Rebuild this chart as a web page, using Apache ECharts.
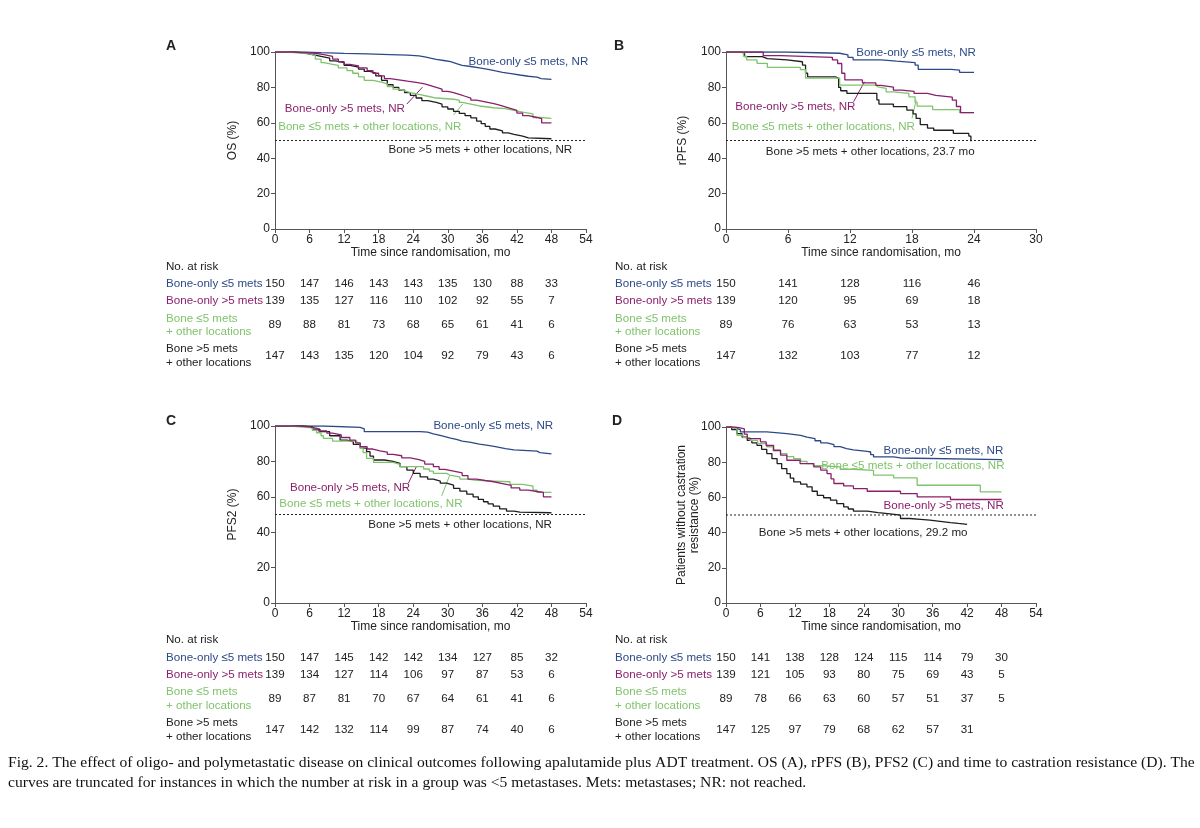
<!DOCTYPE html>
<html><head><meta charset="utf-8">
<script src="https://cdn.jsdelivr.net/npm/echarts@6/dist/echarts.min.js"></script>
<style>html,body{margin:0;padding:0;background:#fff}#c{width:1200px;height:828px}</style>
</head><body><div id="c"></div>
<script>
// ---------- Data ----------
const groupNames = ['Bone-only ≤5 mets', 'Bone-only >5 mets', 'Bone ≤5 mets\n+ other locations', 'Bone >5 mets\n+ other locations'];
const panelLetters = ['A', 'B', 'C', 'D'];
const yTitles = ['OS (%)', 'rPFS (%)', 'PFS2 (%)', 'Patients without castration\nresistance (%)'];
const xTitle = 'Time since randomisation, mo';
const xMaxes = [54, 30, 54, 54];
const yTicks = [0, 20, 40, 60, 80, 100];
const medianLine = 50;

// Panel A: OS
const osLe5 = [[0,100],[5,99.6],[8,99.2],[12,98.9],[16,98.5],[20,98.2],[23,97.8],[25,97.3],[26,96.5],[27,95.8],[28,95.2],[29.3,94.5],[30.5,93.5],[31.5,92.5],[32.5,91.8],[34,91],[35.5,90.2],[37,89.3],[38.3,88.5],[39.5,87.8],[41,87],[42.5,86.3],[44,85.8],[45.5,85],[46.2,84.5],[48,84.5]];
const osGt5 = [[0,100],[3,99.7],[5,99.3],[7,98.5],[8.5,97.5],[10,96],[11,94.5],[12,93],[13,92.2],[14.5,91],[16,89.5],[17,88],[18,86.5],[19,85],[20,84.3],[21.5,83.5],[23,82.8],[24.5,82],[26,81],[27,80],[28,79],[29,77.8],[30,77],[31,76],[32,75],[33,74],[34,72.8],[35,71.8],[36.5,70.8],[38,70],[39,69],[40,68],[41,67],[42,65.5],[43,64],[44,63],[45.5,62.3],[46.3,60],[48,60]];
const osLe5Other = [[0,100],[2,99.5],[4,99],[6,98],[7,96],[8,94],[8.5,93],[10,92.5],[11,91],[12.5,89.5],[13.5,88],[14.5,86],[15.5,84],[17,83],[18.5,82],[19.5,80.5],[20.5,79],[21.5,78],[22.5,77],[23.5,76],[25,75],[26.5,74],[28,73.3],[31,72.8],[32,71.5],[32.5,70.5],[34,69.5],[35.5,68.5],[38,68],[40,67],[41.5,66],[43,65],[44.8,63],[46,62.5],[48,62.5]];
const osGt5Other = [[0,100],[3,99.5],[5,98.5],[6.5,97.5],[8,96.5],[9.5,95],[10.5,94],[12,92.5],[13,91.5],[14.5,90.3],[15.5,89],[16.5,88],[17.5,86.5],[18.5,84],[19.5,81.5],[20.5,80],[21.5,78.5],[22.5,77],[23.5,75.5],[24.5,74],[25.5,72.5],[26.5,71.5],[28,70.5],[29,69],[30,67.8],[31,66.5],[32,65.3],[33,64],[34,62.8],[35,61],[35.8,59.5],[36.5,58],[37.3,56.5],[38.2,55.5],[39.5,54.3],[40.5,53.5],[41.5,52.5],[43,51.5],[44,51],[48,51]];

// Panel B: rPFS
const rpfsLe5 = [[0,100],[5.8,99.3],[11,98.4],[11.8,97],[12.3,95.5],[15,94.8],[16.5,94],[18.3,92.6],[18.6,90.2],[21.8,89.8],[22.6,88.5],[24,88.5]];
const rpfsGt5 = [[0,100],[3.6,97.9],[5.3,97],[10.3,95.5],[10.8,93.5],[11.2,88],[11.5,84.2],[13.2,82.6],[14.5,81.2],[15,80.2],[16.2,78.5],[17,77.8],[18.2,76.6],[19.5,75.5],[20.3,74.5],[21.9,72.8],[22.3,69.2],[22.7,65.7],[24,65.7]];
const rpfsLe5Other = [[0,100],[1.7,97.5],[2,95.5],[3,93.6],[4,91.3],[7.2,90],[7.7,85.2],[11,81.3],[14.5,80.3],[14.7,79.4],[15.5,77.5],[16.2,76.6],[17.7,74.7],[18.3,71.5],[18.5,69.4],[20,67.5],[22.6,65.7],[24,65.7]];
const rpfsGt5Other = [[0,100],[1.5,99],[1.8,97.4],[3.5,96.3],[4,95.5],[5.9,94.5],[7.4,92.6],[7.7,88],[7.9,86],[10.6,85.1],[10.9,80],[11.1,78.1],[11.7,76.6],[14.4,76.6],[14.6,73],[14.8,70.6],[16.2,69.1],[17.5,67.2],[18.1,65],[18.4,62.5],[18.8,59],[19.5,57],[20.1,55.8],[22,54],[23.5,52.5],[23.7,49.6]];

// Panel C: PFS2
const pfs2Le5 = [[0,100],[8.4,99.2],[14.8,98.4],[15.5,96.8],[25.2,96.5],[26.5,95.5],[27.5,94.8],[28.5,94],[29.5,93.2],[30.5,92.5],[31.5,91.5],[32.5,90.8],[34,89.8],[35.5,89],[37,88.2],[38.5,87.2],[40,86.5],[41.5,85.8],[45.5,85],[46,84.3],[48,84.3]];
const pfs2Gt5 = [[0,100],[4.5,99.5],[6,98.5],[7.5,97.2],[9,96],[10,95],[11.5,93.5],[13,92],[14,90.5],[14.8,88.3],[16,87],[17,86],[18.2,85.3],[19.5,84],[20.5,83.2],[22,82],[23.5,81],[25,80],[26,78.5],[27.5,77],[28.5,75.5],[29.5,74.5],[31,73.5],[32.5,72],[33.5,70],[35,69.2],[36.5,68.5],[38,67.5],[39.5,66.5],[41,65],[42.5,63.8],[44,63],[45.5,62.5],[46.6,60],[48,60]];
const pfs2Le5Other = [[0,100],[2.5,99.5],[4.3,99],[6.5,97.5],[7.2,96.2],[8,94.5],[8.4,93],[10,91.5],[14.2,90.2],[14.8,87.4],[15.3,85],[15.9,81.7],[17.1,79.4],[20.5,78.3],[21.7,77],[25.8,75.7],[26.8,74.5],[27.5,73.2],[29.8,72.3],[30.3,71.3],[32.1,70],[33.5,69.3],[35,68.9],[38,68.5],[40.8,67],[43,66],[44.8,63.8],[45.5,62.5],[48,62.5]];
const pfs2Gt5Other = [[0,100],[4.9,99.5],[6.5,98.2],[7.8,96.8],[9.5,94.5],[11.3,92],[12.5,91],[13.6,89.6],[14.8,87.5],[15.9,85.5],[16.5,83],[17.1,80.8],[19,80],[20.5,78.9],[21.7,77],[22.9,75.1],[24,73.2],[25.2,71.3],[26.5,70],[27.5,68.9],[28.7,67.7],[29.8,66.6],[31,64.8],[32.1,63.2],[33.3,61.5],[34.4,60],[35.3,58.5],[36.2,57.2],[37,56],[37.9,54.7],[39,53.2],[40.2,51.9],[41.5,51.3],[42.5,51],[48,51]];

// Panel D: time to castration resistance
const crLe5 = [[0,100],[0.8,99.5],[1.5,98.5],[2.5,97.2],[7.1,96.2],[10.6,95.3],[13,94.3],[14.1,93.4],[15.5,92.2],[16.5,91],[17.6,90],[18.8,88.8],[19.9,87.7],[21,87],[22.2,86.2],[24.6,85.8],[25.2,84.3],[25.7,83],[29.2,82.4],[30.4,81.5],[48,81]];
const crGt5 = [[0,100],[1.5,99.5],[2.5,99],[3.2,96],[3.7,93.4],[6,91.5],[7,89.5],[8.3,86.8],[9.5,84],[10.6,81.1],[12.9,79.2],[15.3,77.3],[16.5,75.5],[17.6,73.5],[18.3,70.5],[18.8,67.9],[20.5,66.5],[22.2,65],[24.6,63.5],[30.4,62.2],[33.3,60.3],[39.1,58.8],[48,58.8]];
const crLe5Other = [[0,100],[1,99],[1.9,95.3],[3,94],[4.2,92.4],[5.5,90.5],[7.1,88.7],[8.2,86.5],[9.5,84.9],[10.6,83.2],[11.8,82],[13,80.5],[14.1,79.2],[15.2,78],[16.4,77.3],[19.9,76],[22.2,75.4],[25.7,72.6],[29.2,71.1],[33.3,66.9],[44.3,63.1],[48,63]];
const crGt5Other = [[0,100],[1,98.5],[1.9,96.2],[2.8,94.3],[3.7,92.4],[4.5,91],[5.4,89.6],[6.2,87.3],[7.1,84.9],[8,82],[8.9,79.2],[9.7,76.3],[10.6,73.5],[11.2,71],[11.8,68.8],[13,67.5],[14.1,66],[15,63.5],[15.9,61.2],[17,59.8],[18.2,58.4],[19.3,56.5],[20.5,54.6],[21.3,53.4],[22.2,52.2],[24.6,51.4],[26.5,50.6],[28.6,49.9],[30.4,48],[32,47.5],[33.9,47.1],[35.5,46.4],[37.3,45.7],[39.1,45.2],[40.5,44.7],[42,44.7]];

// At-risk tables
const riskTimesA = [0, 6, 12, 18, 24, 30, 36, 42, 48];
const riskA = [[150,147,146,143,143,135,130,88,33],[139,135,127,116,110,102,92,55,7],[89,88,81,73,68,65,61,41,6],[147,143,135,120,104,92,79,43,6]];
const riskTimesB = [0, 6, 12, 18, 24];
const riskB = [[150,141,128,116,46],[139,120,95,69,18],[89,76,63,53,13],[147,132,103,77,12]];
const riskTimesC = [0, 6, 12, 18, 24, 30, 36, 42, 48];
const riskC = [[150,147,145,142,142,134,127,85,32],[139,134,127,114,106,97,87,53,6],[89,87,81,70,67,64,61,41,6],[147,142,132,114,99,87,74,40,6]];
const riskTimesD = [0, 6, 12, 18, 24, 30, 36, 42, 48];
const riskD = [[150,141,138,128,124,115,114,79,30],[139,121,105,93,80,75,69,43,5],[89,78,66,63,60,57,51,37,5],[147,125,97,79,68,62,57,31]];

// Curve annotations: [text, group, t, s]  (data coordinates)
const annotA = [['Bone-only ≤5 mets, NR',0,33.6,94.2],['Bone-only >5 mets, NR',1,1.7,67.8],['Bone ≤5 mets + other locations, NR',2,0.55,57.8],['Bone >5 mets + other locations, NR',3,19.7,44.6]];
const annotB = [['Bone-only ≤5 mets, NR',0,12.6,99.3],['Bone-only >5 mets, NR',1,0.9,69.1],['Bone ≤5 mets + other locations, NR',2,0.55,57.8],['Bone >5 mets + other locations, 23.7 mo',3,3.85,43.7]];
const annotC = [['Bone-only ≤5 mets, NR',0,27.5,100],['Bone-only >5 mets, NR',1,2.6,65.1],['Bone ≤5 mets + other locations, NR',2,0.75,56.3],['Bone >5 mets + other locations, NR',3,16.2,44]];
const annotD = [['Bone-only ≤5 mets, NR',0,27.45,86.5],['Bone ≤5 mets + other locations, NR',2,16.6,77.8],['Bone-only >5 mets, NR',1,27.45,55.1],['Bone >5 mets + other locations, 29.2 mo',3,5.7,39.9]];
// Leader lines: [group, t1, s1, t2, s2]
const leadersA = [[1,22.9,70.6,25.6,80.1],[2,31.0,64.4,32.6,70.6]];
const leadersB = [[1,12.35,71.9,13.4,83.2],[2,18.0,62.5,18.4,72.9]];
const leadersC = [[1,23.15,67.6,24.6,77.4],[2,28.95,60.6,30.3,71.9]];
const leadersD = [];

const captionLines = [
  'Fig. 2. The effect of oligo- and polymetastatic disease on clinical outcomes following apalutamide plus ADT treatment. OS (A), rPFS (B), PFS2 (C) and time to castration resistance (D). The',
  'curves are truncated for instances in which the number at risk in a group was <5 metastases. Mets: metastases; NR: not reached.'
];

// ---------- Styles / layout ----------
const colors = ['#2c4a87', '#8a1f6c', '#7fc36c', '#1e1e1e'];
const FONT = '"Liberation Sans", Arial, Helvetica, sans-serif';
const SERIF = '"Liberation Serif", "Times New Roman", serif';
const TXT = '#222';
const grids = [
  {left: 275, top: 52, width: 311, height: 177},
  {left: 726, top: 52, width: 310, height: 177},
  {left: 275, top: 426, width: 311, height: 177},
  {left: 726, top: 427, width: 310, height: 176}
];
const yNameGaps = [36, 37, 36, 25];
const curves = [
  [osLe5, osGt5, osLe5Other, osGt5Other],
  [rpfsLe5, rpfsGt5, rpfsLe5Other, rpfsGt5Other],
  [pfs2Le5, pfs2Gt5, pfs2Le5Other, pfs2Gt5Other],
  [crLe5, crGt5, crLe5Other, crGt5Other]
];
const risks = [[riskTimesA, riskA], [riskTimesB, riskB], [riskTimesC, riskC], [riskTimesD, riskD]];
const annots = [annotA, annotB, annotC, annotD];
const leaders = [leadersA, leadersB, leadersC, leadersD];
const tableLayout = [
  {x: 166, header: 267, rows: [283.5, 300.7, 325.2, 355.7]},
  {x: 615, header: 267, rows: [283.5, 300.7, 325.2, 355.7]},
  {x: 166, header: 640, rows: [657.3, 674.3, 699, 729.5]},
  {x: 615, header: 640, rows: [657.3, 674.3, 699, 729.5]}
];
const letterPos = [[166, 46], [614, 46], [166, 421], [612, 421]];

const chart = echarts.init(document.getElementById('c'), null, {renderer: 'canvas'});

const axisCommon = {
  axisLine: {show: true, lineStyle: {color: '#555', width: 1}},
  axisTick: {show: true, length: 4, lineStyle: {color: '#555', width: 1}},
  axisLabel: {color: TXT, fontSize: 12, fontFamily: FONT, margin: 5},
  splitLine: {show: false}
};

const xAxes = [], yAxes = [], series = [];
grids.forEach((g, i) => {
  xAxes.push(Object.assign({}, axisCommon, {
    type: 'value', gridIndex: i, min: 0, max: xMaxes[i], interval: 6,
    name: xTitle, nameLocation: 'middle', nameGap: 15,
    nameTextStyle: {color: TXT, fontSize: 12, fontFamily: FONT}
  }));
  yAxes.push(Object.assign({}, axisCommon, {
    type: 'value', gridIndex: i, min: 0, max: 100, interval: 20,
    name: yTitles[i], nameLocation: 'middle', nameGap: yNameGaps[i], nameRotate: 90, nameMoveOverlap: false,
    nameTextStyle: {color: TXT, fontSize: 12, fontFamily: FONT, lineHeight: 13}
  }));
  series.push({
    type: 'line', xAxisIndex: i, yAxisIndex: i, data: [[0, medianLine], [xMaxes[i], medianLine]],
    symbol: 'none', silent: true, lineStyle: {color: '#222', width: 1, type: [2, 2]}, z: 1
  });
  curves[i].forEach((d, k) => {
    series.push({
      type: 'line', xAxisIndex: i, yAxisIndex: i, data: d, step: 'end',
      symbol: 'none', silent: true, lineStyle: {color: colors[k], width: 1.3}, z: 2 + (k === 0 ? 0 : 4 - k)
    });
  });
});

chart.setOption({
  backgroundColor: '#fff',
  animation: false,
  grid: grids.map(g => Object.assign({containLabel: false}, g)),
  xAxis: xAxes, yAxis: yAxes, series: series
});

// ---------- Graphic overlays (positions via the chart's scales) ----------
const graphics = [];
function txt(x, y, text, opts) {
  graphics.push({type: 'text', x: x, y: y, silent: true, style: Object.assign({
    text: text, fill: TXT, fontSize: 12, fontFamily: FONT, textAlign: 'left', textVerticalAlign: 'middle'
  }, opts || {})});
}
grids.forEach((g, i) => {
  txt(letterPos[i][0], letterPos[i][1], panelLetters[i], {fontWeight: 'bold', fontSize: 14});
  annots[i].forEach(a => {
    const p = chart.convertToPixel({gridIndex: i}, [a[2], a[3]]);
    txt(p[0], p[1], a[0], {fill: colors[a[1]], fontSize: 11.6});
  });
  leaders[i].forEach(l => {
    const p1 = chart.convertToPixel({gridIndex: i}, [l[1], l[2]]);
    const p2 = chart.convertToPixel({gridIndex: i}, [l[3], l[4]]);
    graphics.push({type: 'line', silent: true, shape: {x1: p1[0], y1: p1[1], x2: p2[0], y2: p2[1]},
      style: {stroke: colors[l[0]], lineWidth: 1}});
  });
  const tl = tableLayout[i];
  txt(tl.x, tl.header, 'No. at risk', {fontSize: 11.6});
  groupNames.forEach((name, k) => {
    txt(tl.x, tl.rows[k], name, {fill: k === 3 ? TXT : colors[k], fontSize: 11.6, lineHeight: 13.8});
    const times = risks[i][0], vals = risks[i][1][k];
    vals.forEach((v, j) => {
      const px = chart.convertToPixel({xAxisIndex: i}, times[j]);
      txt(px, tl.rows[k], String(v), {textAlign: 'center', fontSize: 11.6});
    });
  });
});
txt(8, 763, captionLines[0], {fontFamily: SERIF, fontSize: 15.6, fill: '#111'});
txt(8, 783, captionLines[1], {fontFamily: SERIF, fontSize: 15.6, fill: '#111'});

chart.setOption({graphic: graphics});
</script>
</body></html>
